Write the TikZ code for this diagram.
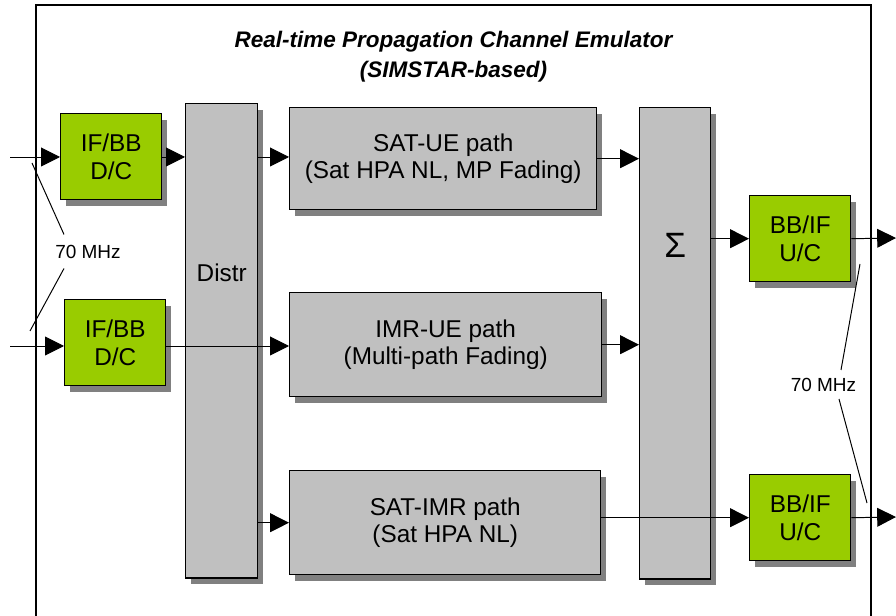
\documentclass[tikz,border=0pt]{standalone}
\usepackage{fontspec}
\setmainfont{Liberation Sans}
\usetikzlibrary{arrows.meta, shadows}
\definecolor{emugreen}{HTML}{99CC00}
\definecolor{emugray}{HTML}{C0C0C0}
\definecolor{shadowgray}{HTML}{808080}
\tikzstyle{boxshadow} = [drop shadow={shadow xshift=0.14cm, shadow yshift=-0.15cm, fill=shadowgray, opacity=1}]
\tikzstyle{convbox} = [rectangle, anchor=north west, draw=black, line width=1pt, fill=emugreen, boxshadow,
  minimum width=2.525cm, minimum height=2.15cm, inner sep=0pt, align=center]
\tikzstyle{pathbox} = [rectangle, anchor=north west, draw=black, line width=1pt, fill=emugray, boxshadow,
  minimum width=7.75cm, minimum height=2.6cm, inner sep=0pt, align=center]
\tikzstyle{barbox} = [pathbox, minimum width=1.8cm, minimum height=11.85cm]
\tikzstyle{arrow} = [line width=0.7pt, -{Triangle[length=0.47cm, width=0.47cm]}]
\tikzstyle{mhz} = [font=\fontsize{13.5}{16}\selectfont, inner sep=0pt]
\tikzstyle{leader} = [line width=0.7pt]

\begin{document}
\begin{tikzpicture}[x=0.025cm, y=-0.025cm, font=\fontsize{17.3}{19.6}\selectfont]
  \useasboundingbox (0,0) rectangle (896,616);
  \draw[line width=0.8pt] (36,5) rectangle (871,630);
  \node (title) [anchor=north, inner sep=0pt, align=center, font=\fontsize{16}{21}\selectfont\bfseries\itshape]
    at (453.5,31) {Real-time Propagation Channel Emulator\\(SIMSTAR-based)};

  % down-converters
  \node (ifbb1) [convbox] at (60,113) {IF/BB\\D/C};
  \node (ifbb2) [convbox] at (64,299) {IF/BB\\D/C};

  % distribution / summation bars
  \node (distr) [barbox, label={[yshift=1.7cm]center:Distr}] at (185,103) {};
  \node (sigma) [barbox, minimum width=1.775cm, minimum height=11.775cm,
    label={[yshift=2.45cm, font=\fontsize{25}{25}\selectfont]center:Σ}] at (639,107) {};

  % channel paths
  \node (satue) [pathbox, minimum width=7.675cm, minimum height=2.55cm] at (289,107) {SAT-UE path\\(Sat HPA NL, MP Fading)};
  \node (imrue) [pathbox, minimum width=7.8cm] at (289,292) {IMR-UE path\\(Multi-path Fading)};
  \node (satimr) [pathbox, minimum width=7.775cm] at (289,470) {SAT-IMR path\\(Sat HPA NL)};

  % up-converters
  \node (bbif1) [convbox] at (749,195) {BB/IF\\U/C};
  \node (bbif2) [convbox] at (749,474) {BB/IF\\U/C};

  \coordinate (in1) at (10,157);
  \coordinate (in2) at (10,346);
  \coordinate (out1) at (896,238);
  \coordinate (out2) at (896,517);

  \draw[arrow] (in1) -- (in1 -| ifbb1.west);
  \draw[arrow] (in2) -- (in2 -| ifbb2.west);
  \draw[arrow] (in1 -| ifbb1.east) -- (in1 -| distr.west);
  \draw[arrow] (in2 -| ifbb2.east) -- (in2 -| imrue.west);
  \draw[arrow] (in1 -| distr.east) -- (in1 -| satue.west);
  \draw[arrow] (distr.east |- satimr.west) -- (satimr.west);
  \draw[arrow] (satue.east) -- (satue.east -| sigma.west);
  \draw[arrow] (imrue.east) -- (imrue.east -| sigma.west);
  \draw[arrow] (satimr.east |- bbif2.west) -- (bbif2.west);
  \draw[arrow] (sigma.east |- bbif1.west) -- (bbif1.west);
  \draw[arrow] (bbif1.east) -- (out1);
  \draw[arrow] (bbif2.east) -- (out2);

  % 70 MHz markers
  \node (mhzin) [mhz] at (88,251.5) {70 MHz};
  \node (mhzout) [mhz] at (823.5,385) {70 MHz};
  \coordinate (tapin1) at (32,163);
  \coordinate (tapin2) at (30,331);
  \coordinate (tapout1) at (860,264);
  \coordinate (tapout2) at (867,503);
  \draw[leader] (tapin1) -- ([shift={(-24,-10)}]mhzin.north);
  \draw[leader] (tapin2) -- ([shift={(-24,10)}]mhzin.south);
  \draw[leader] (tapout1) -- ([shift={(17.5,-8)}]mhzout.north);
  \draw[leader] (tapout2) -- ([shift={(15.5,7)}]mhzout.south);
\end{tikzpicture}
\end{document}
